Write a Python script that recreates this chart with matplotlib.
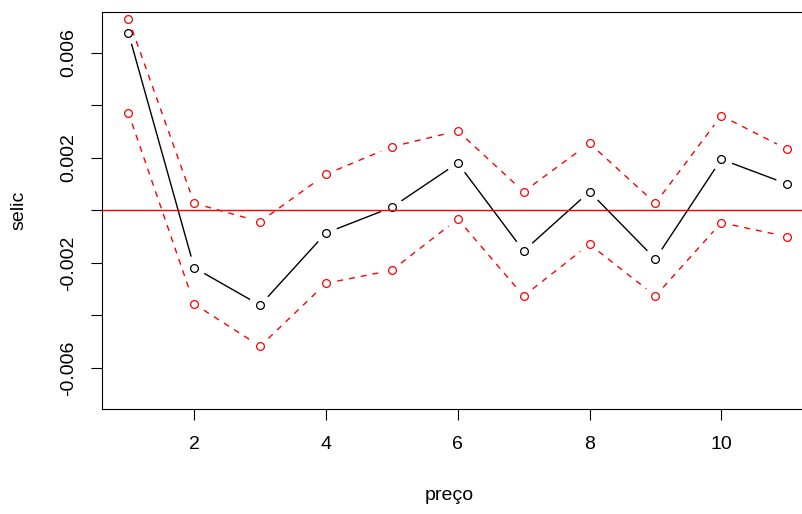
import numpy as np
import matplotlib
matplotlib.use("Agg")
import matplotlib.pyplot as plt

plt.rcParams['font.family'] = ['Liberation Sans', 'DejaVu Sans']

# data
lags = [1, 2, 3, 4, 5, 6, 7, 8, 9, 10, 11]
irf = [0.006773, -0.002179, -0.003611, -0.000857, 0.000122, 0.001810,
       -0.001543, 0.000716, -0.001848, 0.001950, 0.001010]
upper = [0.007295, 0.000274, -0.000427, 0.001379, 0.002430, 0.003029,
         0.000716, 0.002560, 0.000274, 0.003611, 0.002331]
lower = [0.003726, -0.003562, -0.005173, -0.002773, -0.002278, -0.000324,
         -0.003257, -0.001288, -0.003257, -0.000465, -0.000998]
yticks = [-0.006, -0.004, -0.002, 0.0, 0.002, 0.004, 0.006]
ytick_labels = ['-0.006', '', '-0.002', '', '0.002', '', '0.006']
xticks = [2, 4, 6, 8, 10]
xtick_labels = ['2', '4', '6', '8', '10']

W, H = 803, 514
fig = plt.figure(figsize=(W / 100, H / 100), dpi=100)
left_px, right_px, top_px, bot_px = 102, 813.5, 12, 408.7
ax = fig.add_axes([left_px / W, 1 - bot_px / H, (right_px - left_px) / W, (bot_px - top_px) / H])
ax.set_xlim(0.6, 11.4)
ax.set_ylim(-0.00755, 0.00756)

GAP = 11.5  # pixels gap around points (R type="b")


def plot_b(x, y, color, ls, dashes=None):
    pts = ax.transData.transform(np.column_stack([x, y]))
    inv = ax.transData.inverted()
    for i in range(len(pts) - 1):
        p0, p1 = pts[i], pts[i + 1]
        d = p1 - p0
        L = np.hypot(*d)
        if L <= 2 * GAP:
            continue
        u = d / L
        a = inv.transform(p0 + u * GAP)
        b = inv.transform(p1 - u * GAP)
        kw = dict(color=color, lw=1.0, solid_capstyle='butt', dash_capstyle='butt')
        if dashes:
            kw['dashes'] = dashes
        ax.plot([a[0], b[0]], [a[1], b[1]], **kw)
    ax.plot(x, y, ls='none', marker='o', ms=5.6, mfc='none', mec=color, mew=0.9)


plot_b(lags, irf, 'black', '-')
plot_b(lags, upper, '#ff0000', '--', dashes=(4.3, 4.3))
plot_b(lags, lower, '#ff0000', '--', dashes=(4.3, 4.3))
ax.axhline(0, color='#ff0000', lw=1.0, zorder=5)

ax.set_yticks(yticks)
ax.set_yticklabels(ytick_labels, rotation=90, va='center')
ax.set_xticks(xticks)
ax.set_xticklabels(xtick_labels)
ax.tick_params(axis='both', direction='out', length=8, width=0.8, labelsize=14, color='black')
ax.tick_params(axis='y', pad=10)
ax.tick_params(axis='x', pad=12)
for s in ax.spines.values():
    s.set_linewidth(0.8)

ax.set_xlabel('preço', fontsize=14)
ax.set_ylabel('selic', fontsize=14)
ax.xaxis.set_label_coords(((W / 2 + 48) - left_px) / (right_px - left_px), -(495 - bot_px) / (bot_px - top_px))
ax.xaxis.label.set_va('center')
ax.yaxis.set_label_coords(-(left_px - 19) / (right_px - left_px), (bot_px - 210) / (bot_px - top_px))
ax.yaxis.label.set_va('center')

fig.savefig('out.png', dpi=100)
